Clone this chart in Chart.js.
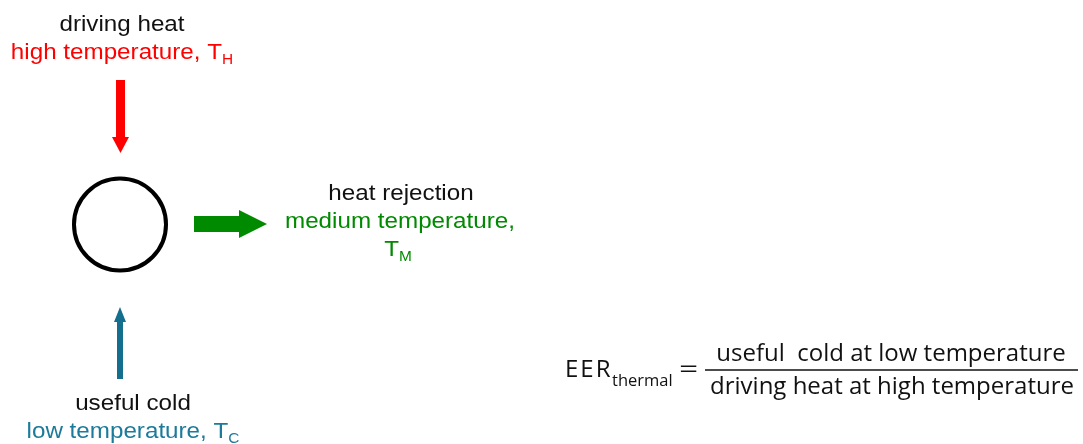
<!DOCTYPE html>
<html>
<head>
<meta charset="utf-8">
<script src="https://cdn.jsdelivr.net/npm/chart.js@4.4.0/dist/chart.umd.min.js"></script>
<style>
  html, body { margin: 0; padding: 0; background: #fff; }
  #wrap { width: 1083px; height: 444px; }
</style>
</head>
<body>
<div id="wrap"><canvas id="diagram" width="1083" height="444"></canvas></div>
<script>
// flows in / out of the machine
const flowNames = ["driving heat", "heat rejection", "useful cold"];
const flowTemps = ["high temperature, T", "medium temperature,", "low temperature, T"];
const flowSubs = ["H", "M", "C"];
const arrowTails = [[120.5, 80], [194, 224], [120, 379]];
const arrowTips = [[120.5, 153], [267, 224], [120, 307]];
const machinePos = [[120, 224.5]];
const eerName = ["EER", "thermal"];
const eerTerms = ["useful  cold at low temperature", "driving heat at high temperature"];

const colors = {
  hot: "#ff0000",
  mid: "#008a00",
  cold: "#146f8e",
  coldText: "#1c7a9a",
  ink: "#111111",
};
const arrowColors = [colors.hot, colors.mid, colors.cold];
const arrowShaft = [9, 16, 6];
const arrowHeadLen = [16, 28, 15];
const arrowHeadW = [17, 28, 12];

const toXY = (p) => ({ x: p[0], y: p[1] });

const arrowSets = arrowTails.map((t, i) => ({
  type: "scatter",
  data: [toXY(t), toXY(arrowTips[i])],
  pointRadius: 0,
  showLine: false,
  arrow: { color: arrowColors[i], shaft: arrowShaft[i], headLen: arrowHeadLen[i], headW: arrowHeadW[i] },
}));

// 畫箭頭和文字
const diagramPlugin = {
  id: "diagram",
  afterDatasetsDraw(chart) {
    const ctx = chart.ctx;
    chart.data.datasets.forEach((ds, i) => {
      if (!ds.arrow) return;
      const pts = chart.getDatasetMeta(i).data;
      const a = pts[0], b = pts[1];
      const ang = Math.atan2(b.y - a.y, b.x - a.x);
      const len = Math.hypot(b.x - a.x, b.y - a.y);
      const o = ds.arrow;
      ctx.save();
      ctx.translate(a.x, a.y);
      ctx.rotate(ang);
      ctx.fillStyle = o.color;
      ctx.beginPath();
      ctx.moveTo(0, -o.shaft / 2);
      ctx.lineTo(len - o.headLen, -o.shaft / 2);
      ctx.lineTo(len - o.headLen, -o.headW / 2);
      ctx.lineTo(len, 0);
      ctx.lineTo(len - o.headLen, o.headW / 2);
      ctx.lineTo(len - o.headLen, o.shaft / 2);
      ctx.lineTo(0, o.shaft / 2);
      ctx.closePath();
      ctx.fill();
      ctx.restore();
    });
  },
  afterDraw(chart) {
    const ctx = chart.ctx;
    const sx = chart.scales.x, sy = chart.scales.y;
    const px = (v) => sx.getPixelForValue(v);
    const py = (v) => sy.getPixelForValue(v);
    const mainFont = '22px "Liberation Sans", Arial, sans-serif';
    const subFont = '14px "Liberation Sans", Arial, sans-serif';
    const stretch = 1.1;

    function label(text, sub, cx, y, color) {
      ctx.save();
      ctx.fillStyle = color;
      ctx.textBaseline = "alphabetic";
      ctx.font = mainFont;
      const w1 = ctx.measureText(text).width;
      ctx.font = subFont;
      const w2 = sub ? ctx.measureText(sub).width : 0;
      ctx.translate(px(cx), py(y));
      ctx.scale(stretch, 1);
      const x0 = -(w1 + w2) / 2;
      ctx.font = mainFont;
      ctx.fillText(text, x0, 0);
      if (sub) {
        ctx.font = subFont;
        ctx.fillText(sub, x0 + w1, 5);
      }
      ctx.restore();
    }

    label(flowNames[0], "", 122, 31, colors.ink);
    label(flowTemps[0], flowSubs[0], 122, 59, colors.hot);
    label(flowNames[1], "", 401, 200, colors.ink);
    label(flowTemps[1], "", 400, 228, colors.mid);
    label("T", flowSubs[1], 398, 256, colors.mid);
    label(flowNames[2], "", 133, 410, colors.ink);
    label(flowTemps[2], flowSubs[2], 133, 438, colors.coldText);

    // EER 公式
    ctx.save();
    ctx.fillStyle = colors.ink;
    ctx.textBaseline = "alphabetic";
    ctx.font = '24px "Open Sans", sans-serif';
    ctx.letterSpacing = "2px";
    ctx.fillText(eerName[0], px(565), py(377));
    ctx.letterSpacing = "0px";
    ctx.font = '16.5px "Open Sans", sans-serif';
    ctx.fillText(eerName[1], px(612), py(386));
    ctx.save();
    ctx.font = '24px "Open Sans", sans-serif';
    ctx.translate(px(679), py(377));
    ctx.scale(1.4, 1);
    ctx.fillText("=", 0, 0);
    ctx.restore();
    ctx.textAlign = "center";
    ctx.font = '24px "Open Sans", sans-serif';
    ctx.fillText(eerTerms[0], px(891), py(361));
    ctx.fillText(eerTerms[1], px(892), py(394));
    ctx.strokeStyle = colors.ink;
    ctx.lineWidth = 1.5;
    ctx.beginPath();
    ctx.moveTo(px(705), py(370));
    ctx.lineTo(px(1078), py(370));
    ctx.stroke();
    ctx.restore();
  },
};

const ctx = document.getElementById("diagram").getContext("2d");
const chart = new Chart(ctx, {
  type: "scatter",
  data: {
    datasets: [
      {
        data: machinePos.map(toXY),
        pointRadius: 46,
        pointBorderWidth: 4,
        pointBorderColor: "#000",
        pointBackgroundColor: "rgba(0,0,0,0)",
        clip: false,
      },
      ...arrowSets,
    ],
  },
  options: {
    responsive: false,
    animation: false,
    events: [],
    layout: { padding: 0, autoPadding: false },
    plugins: { legend: { display: false }, tooltip: { enabled: false } },
    scales: {
      x: { type: "linear", min: 0, max: 1083, display: false },
      y: { type: "linear", min: 0, max: 444, reverse: true, display: false },
    },
  },
  plugins: [diagramPlugin],
});
</script>
</body>
</html>
